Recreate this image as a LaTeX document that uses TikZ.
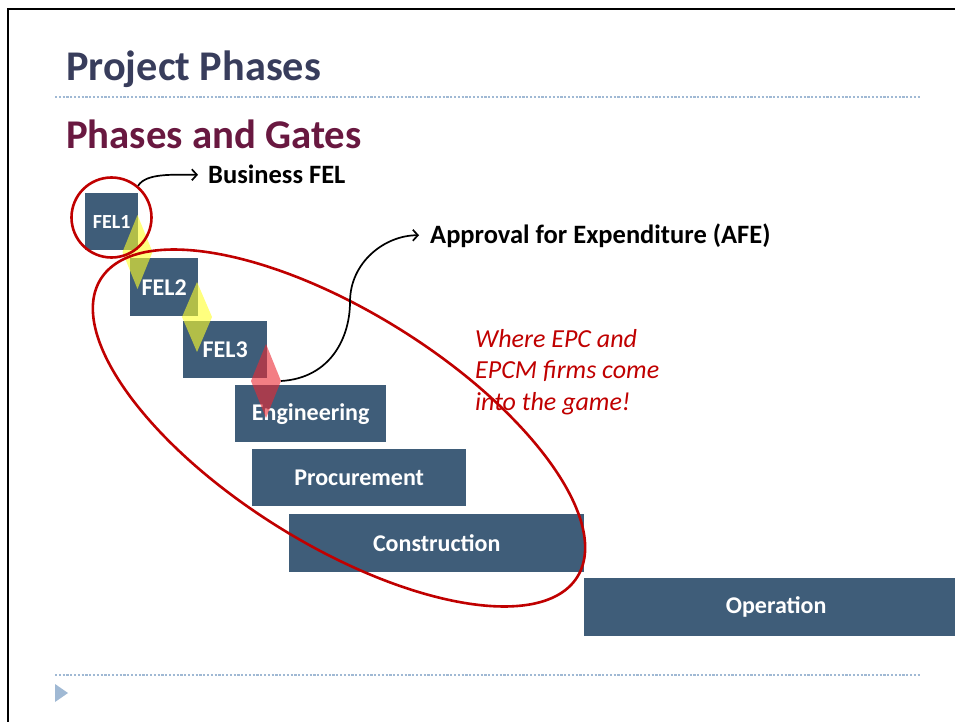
\documentclass[tikz,border=0pt]{standalone}
\usepackage{fontspec}
\setmainfont{Carlito}
\usetikzlibrary{arrows.meta,shapes.geometric}
\definecolor{boxblue}{RGB}{63,93,121}
\definecolor{titlecol}{RGB}{56,61,92}
\definecolor{subcol}{RGB}{105,24,64}
\definecolor{darkred}{RGB}{192,0,0}
\definecolor{dashcol}{RGB}{160,185,212}
\definecolor{gateyellow}{RGB}{255,255,40}
\definecolor{gatered}{RGB}{235,40,50}
\tikzset{
  phase/.style={fill=boxblue, text=white, inner sep=0pt, anchor=north west,
    font=\bfseries\fontsize{24}{28}\selectfont},
  gate/.style={opacity=0.6},
  redring/.style={draw=darkred, line width=2.6pt, inner sep=0pt},
  conn/.style={line width=1.7pt, -{Straight Barb[length=5pt,width=11pt]}},
  label/.style={anchor=base west, inner sep=0pt, font=\bfseries\fontsize{26.5}{32}\selectfont},
  sep/.style={draw=dashcol, line width=1.1pt, dash pattern=on 2.2pt off 1.6pt},
}
\begin{document}
\begin{tikzpicture}[x=1pt,y=-1pt]
\useasboundingbox (0,0) rectangle (955,722);
\fill[white] (0,0) rectangle (955,722);
% frame
\draw[line width=2.5pt] (8,722) -- (8,9) -- (955,9);
% titles
\node[anchor=base west, inner sep=0pt, text=titlecol, font=\bfseries\fontsize{42.3}{50}\selectfont] (title) at (66,81) {Project Phases};
\draw[sep] (55,97) -- (920,97);
\node[anchor=base west, inner sep=0pt, text=subcol, font=\bfseries\fontsize{40.8}{48}\selectfont] (sub) at (66,149) {Phases and Gates};
\draw[sep] (55,675) -- (920,675);
\fill[dashcol] (55,684) -- (68,693) -- (55,702) -- cycle;
% phase boxes
\node[phase, minimum width=53pt, minimum height=57pt, font=\bfseries\fontsize{20}{24}\selectfont] (fel1) at (85,193) {FEL1};
\node[phase, minimum width=68pt, minimum height=58pt] (fel2) at (130,258) {FEL2};
\node[phase, minimum width=84pt, minimum height=57pt] (fel3) at (183,321) {FEL3};
\node[phase, minimum width=151pt, minimum height=57pt] (eng) at (235,385) {Engineering};
\node[phase, minimum width=214pt, minimum height=57pt] (proc) at (252,449) {Procurement};
\node[phase, minimum width=295pt, minimum height=58pt] (cons) at (289,514) {Construction};
\node[phase, minimum width=384pt, minimum height=58pt] (oper) at (584,578) {Operation};
% gates
\fill[gate, gateyellow] (137.5,215) -- (152.5,252) -- (137.5,289) -- (122.5,252) -- cycle;
\fill[gate, gateyellow] (197,282) -- (212,317) -- (197,352) -- (182,317) -- cycle;
\fill[gate, gatered] (266,344) -- (281,381) -- (266,418) -- (251,381) -- cycle;
\coordinate (g3e) at (281,381);
% red rings
\node[redring, circle, minimum size=80pt] (ring1) at (111.5,217.5) {};
\node[redring, ellipse, minimum width=562pt, minimum height=232pt, rotate=-32] (ring2) at (339,428) {};
% labels
\node[label] (bfel) at (208,183) {Business FEL};
\node[label] (afe) at (430,243) {Approval for Expenditure (AFE)};
\node[anchor=base west, inner sep=0pt, text=darkred, align=left,
  font=\itshape\fontsize{26}{31.5}\selectfont] (epc) at (475,410)
  {Where EPC and\\EPCM firms come\\into the game!};
% connectors
\coordinate (bfelend) at ([xshift=-10pt,yshift=-1pt]bfel.west);
\draw[conn] (ring1.50) .. controls +(8,-13) and +(-25,0) .. (bfelend);
\coordinate (afeend) at ([xshift=-11pt]afe.west);
\coordinate (afemid) at (350,302);
\draw[conn] (g3e) .. controls +(50,-3) and +(0,35) .. (afemid)
  .. controls +(0,-40) and +(-34,0) .. (afeend);
\end{tikzpicture}
\end{document}
